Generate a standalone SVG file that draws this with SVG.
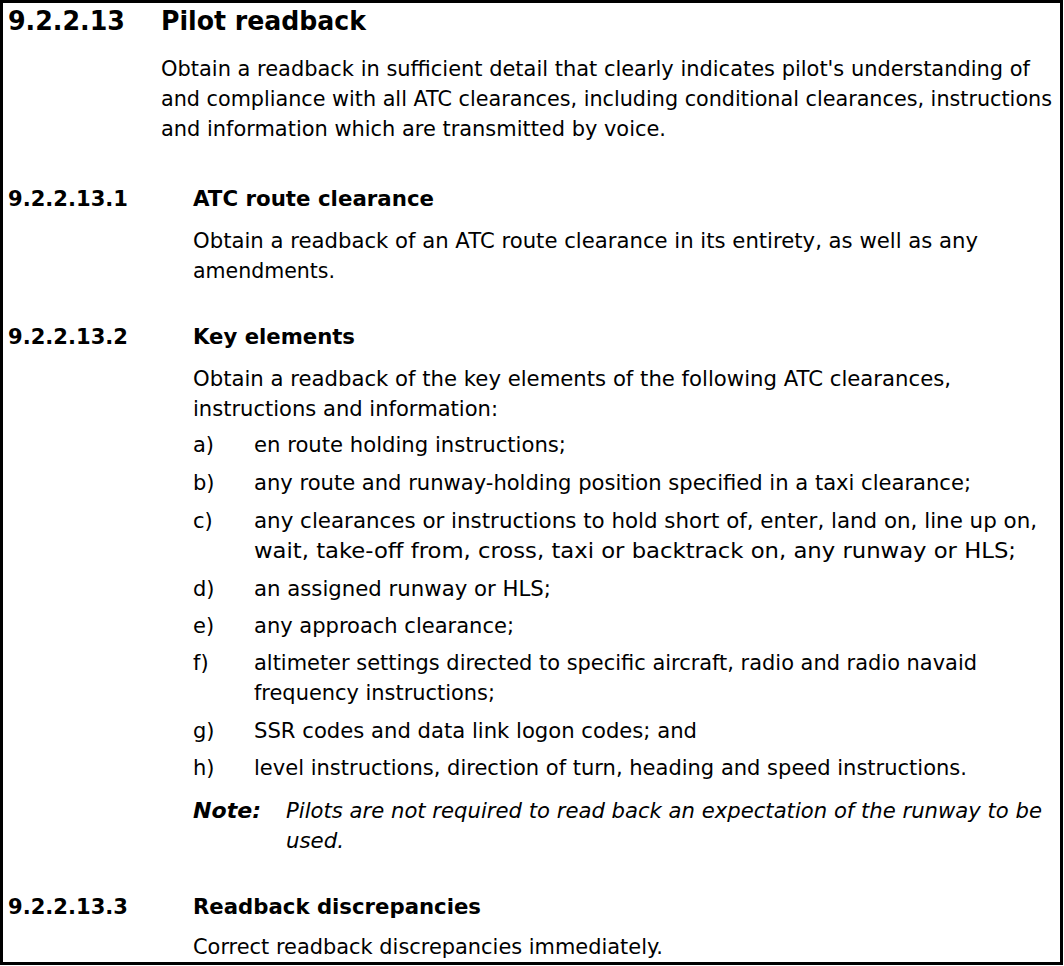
<svg xmlns="http://www.w3.org/2000/svg" width="1064" height="966" viewBox="0 0 1064 966">
<style>
text{font-family:"DejaVu Sans",Verdana,sans-serif;fill:#000}
.b{font-size:21px;font-weight:bold}
.t{font-size:26px;font-weight:bold}
.n{font-size:21px;lengthAdjust:spacingAndGlyphs}
.i{font-style:italic}
</style>
<rect x="0" y="0" width="1064" height="966" fill="#fff"/>
<rect x="1.5" y="1.5" width="1060" height="962" fill="none" stroke="#000" stroke-width="3"/>
<text class="t" x="8" y="30" textLength="117" lengthAdjust="spacingAndGlyphs">9.2.2.13</text>
<text class="t" x="161" y="30" textLength="205" lengthAdjust="spacingAndGlyphs">Pilot readback</text>
<text class="n" x="161" y="76" textLength="869" lengthAdjust="spacingAndGlyphs">Obtain a readback in sufficient detail that clearly indicates pilot's understanding of</text>
<text class="n" x="161" y="106" textLength="891" lengthAdjust="spacingAndGlyphs">and compliance with all ATC clearances, including conditional clearances, instructions</text>
<text class="n" x="161" y="136" textLength="505" lengthAdjust="spacingAndGlyphs">and information which are transmitted by voice.</text>

<text class="b" x="8" y="206" textLength="120" lengthAdjust="spacingAndGlyphs">9.2.2.13.1</text>
<text class="b" x="193" y="206" textLength="241" lengthAdjust="spacingAndGlyphs">ATC route clearance</text>
<text class="n" x="193" y="248" textLength="785" lengthAdjust="spacingAndGlyphs">Obtain a readback of an ATC route clearance in its entirety, as well as any</text>
<text class="n" x="193" y="278" textLength="142" lengthAdjust="spacingAndGlyphs">amendments.</text>

<text class="b" x="8" y="344" textLength="120" lengthAdjust="spacingAndGlyphs">9.2.2.13.2</text>
<text class="b" x="193" y="344" textLength="162" lengthAdjust="spacingAndGlyphs">Key elements</text>
<text class="n" x="193" y="386" textLength="758" lengthAdjust="spacingAndGlyphs">Obtain a readback of the key elements of the following ATC clearances,</text>
<text class="n" x="193" y="416" textLength="305" lengthAdjust="spacingAndGlyphs">instructions and information:</text>
<g class="n">
<text class="n" x="193" y="452">a)</text><text class="n" x="254" y="452" textLength="312" lengthAdjust="spacingAndGlyphs">en route holding instructions;</text>
<text class="n" x="193" y="490">b)</text><text class="n" x="254" y="490" textLength="717" lengthAdjust="spacingAndGlyphs">any route and runway-holding position specified in a taxi clearance;</text>
<text class="n" x="193" y="528">c)</text><text class="n" x="254" y="528" textLength="783" lengthAdjust="spacingAndGlyphs">any clearances or instructions to hold short of, enter, land on, line up on,</text>
<text class="n" x="254" y="558" textLength="762" lengthAdjust="spacingAndGlyphs">wait, take-off from, cross, taxi or backtrack on, any runway or HLS;</text>
<text class="n" x="193" y="596">d)</text><text class="n" x="254" y="596" textLength="297" lengthAdjust="spacingAndGlyphs">an assigned runway or HLS;</text>
<text class="n" x="193" y="633">e)</text><text class="n" x="254" y="633" textLength="260" lengthAdjust="spacingAndGlyphs">any approach clearance;</text>
<text class="n" x="193" y="670">f)</text><text class="n" x="254" y="670" textLength="723" lengthAdjust="spacingAndGlyphs">altimeter settings directed to specific aircraft, radio and radio navaid</text>
<text class="n" x="254" y="700" textLength="241" lengthAdjust="spacingAndGlyphs">frequency instructions;</text>
<text class="n" x="193" y="738">g)</text><text class="n" x="254" y="738" textLength="443" lengthAdjust="spacingAndGlyphs">SSR codes and data link logon codes; and</text>
<text class="n" x="193" y="775">h)</text><text class="n" x="254" y="775" textLength="713" lengthAdjust="spacingAndGlyphs">level instructions, direction of turn, heading and speed instructions.</text>
</g>
<text class="b i" x="193" y="818" textLength="68" lengthAdjust="spacingAndGlyphs">Note:</text>
<text class="n i" x="286" y="818" textLength="756" lengthAdjust="spacingAndGlyphs">Pilots are not required to read back an expectation of the runway to be</text>
<text class="n i" x="286" y="848" textLength="58" lengthAdjust="spacingAndGlyphs">used.</text>

<text class="b" x="8" y="914" textLength="120" lengthAdjust="spacingAndGlyphs">9.2.2.13.3</text>
<text class="b" x="193" y="914" textLength="288" lengthAdjust="spacingAndGlyphs">Readback discrepancies</text>
<text class="n" x="193" y="954" textLength="470" lengthAdjust="spacingAndGlyphs">Correct readback discrepancies immediately.</text>
</svg>
